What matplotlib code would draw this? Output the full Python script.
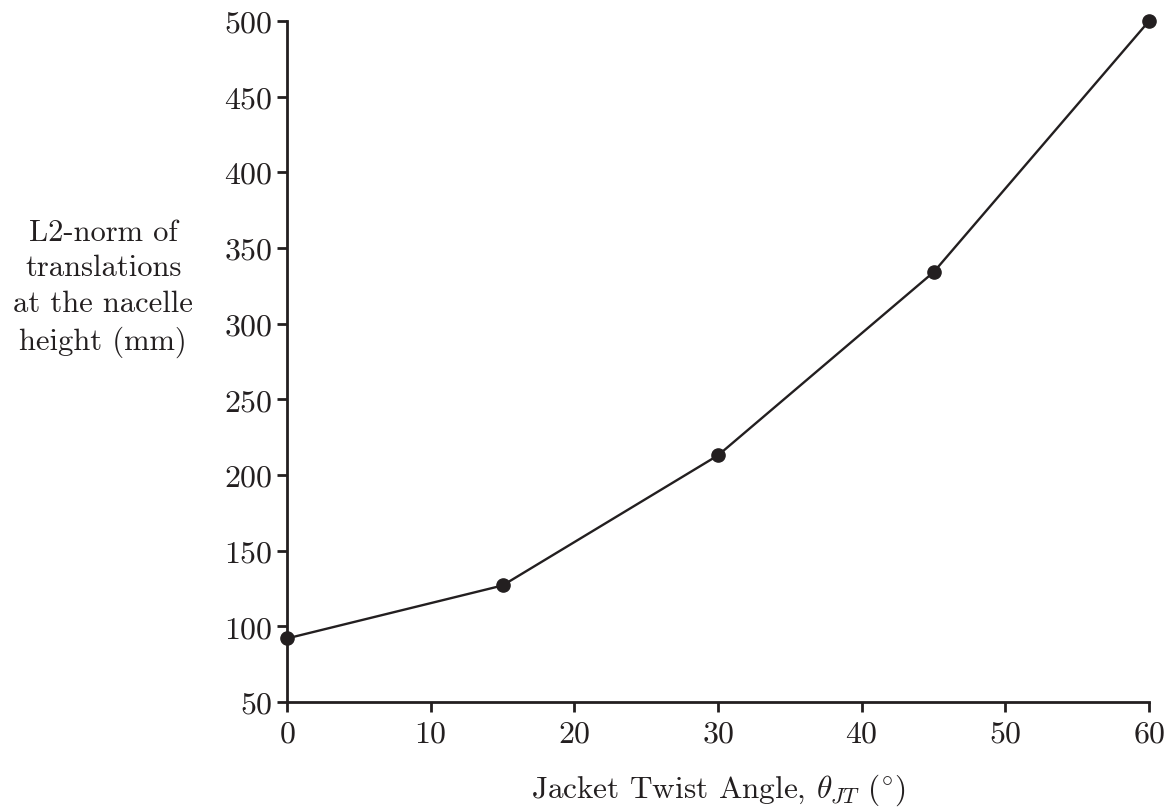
import matplotlib
matplotlib.use("Agg")
import matplotlib.pyplot as plt

# ── data ──────────────────────────────────────────────────────────────────────

twist_deg   = [0, 15, 30, 45, 60]
l2_norm_mm  = [92, 127, 213, 334, 500]

x_ticks = [0, 10, 20, 30, 40, 50, 60]
y_ticks = [50, 100, 150, 200, 250, 300, 350, 400, 450, 500]

# ── style ─────────────────────────────────────────────────────────────────────

INK = "#231f20"

plt.rcParams["font.family"] = ["cmr10", "DejaVu Serif"]
plt.rcParams["mathtext.fontset"] = "cm"
plt.rcParams["axes.formatter.use_mathtext"] = True

fig = plt.figure(figsize=(11.69, 8.12), dpi=100)
ax = fig.add_axes([0.2455, 0.1342, 0.983 - 0.2455, 0.973 - 0.1342])

ax.plot(twist_deg, l2_norm_mm, color=INK, linewidth=1.7,
        marker="o", markersize=9.5, markerfacecolor=INK,
        markeredgecolor=INK, clip_on=False, zorder=3)

ax.set_xlim(0, 60)
ax.set_ylim(50, 500)
ax.set_xticks(x_ticks)
ax.set_yticks(y_ticks)

ax.spines[["top", "right"]].set_visible(False)
for side in ["left", "bottom"]:
    ax.spines[side].set_linewidth(2.0)
    ax.spines[side].set_color(INK)
ax.tick_params(direction="out", length=7, width=2.0, color=INK,
               labelsize=23, labelcolor=INK)
ax.tick_params(axis="y", pad=3.5)
ax.tick_params(axis="x", pad=6)

ax.set_xlabel(r"Jacket Twist Angle, $\theta_{JT}$ $(^{\circ})$",
              fontsize=22.5, color=INK, labelpad=17)
ax.set_ylabel("L2-norm of\ntranslations\nat the nacelle\nheight (mm)",
              fontsize=22, color=INK, rotation=0, ha="center", va="center",
              linespacing=1.38)
ax.yaxis.set_label_coords(-0.213, 0.608)

fig.savefig("out.png", dpi=100)
